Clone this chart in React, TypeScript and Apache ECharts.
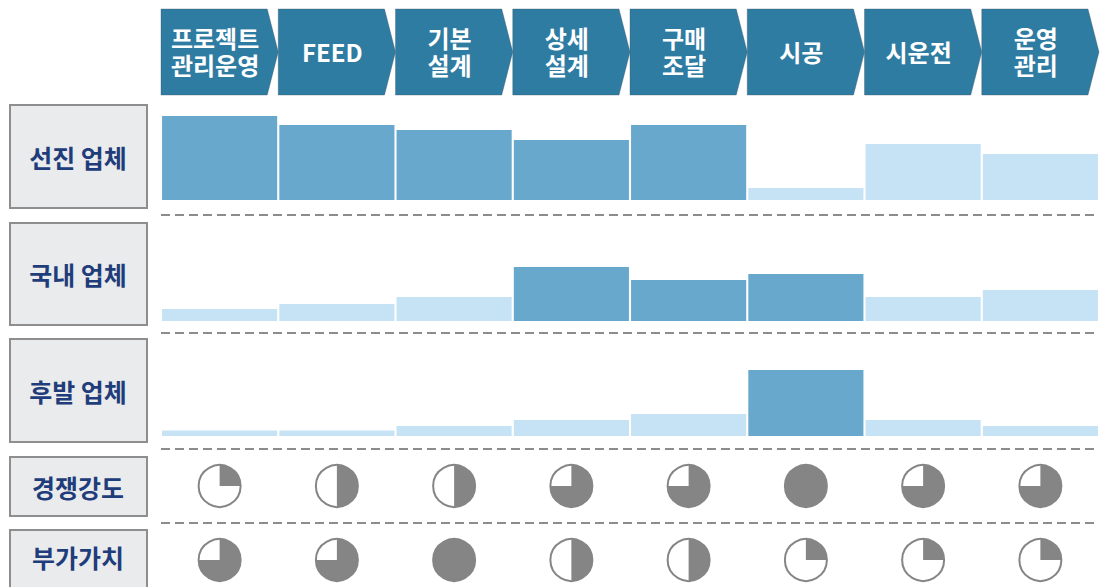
import React, { useEffect, useRef } from "react";
import * as echarts from "echarts";

// ---- data ----
const stages: string[] = ["프로젝트\n관리운영", "FEED", "기본\n설계", "상세\n설계", "구매\n조달", "시공", "시운전", "운영\n관리"];
const rowLabels: string[] = ["선진 업체", "국내 업체", "후발 업체", "경쟁강도", "부가가치"];

const advancedValues: number[] = [84, 75, 70, 60, 75, 12, 56, 46];
const advancedStrong: boolean[] = [true, true, true, true, true, false, false, false];
const domesticValues: number[] = [12, 17, 24, 54, 41, 47, 24, 31];
const domesticStrong: boolean[] = [false, false, false, true, true, true, false, false];
const followerValues: number[] = [5.5, 5.5, 10, 16, 22, 66, 16, 10];
const followerStrong: boolean[] = [false, false, false, false, false, true, false, false];

const competition: number[] = [0.25, 0.5, 0.5, 0.75, 0.75, 1, 0.75, 0.75];
const addedValue: number[] = [0.75, 0.75, 1, 0.5, 0.5, 0.25, 0.25, 0.25];

// ---- style ----
const DARK = "#68A8CD";
const LIGHT = "#C6E2F5";
const CHEV = "#2F7CA3";
const GREY = "#858585";
const NAVY = "#1F3D7A";
const FONT = '"Noto Sans CJK KR", "Noto Sans", sans-serif';

const LEFT = 161;
const WIDTH = 938;

export default function App() {
  const ref = useRef<HTMLDivElement>(null);

  useEffect(() => {
    if (!ref.current) return;
    const chart = echarts.init(ref.current, null, { renderer: "svg" });

    const barRows = [
      { values: advancedValues, strong: advancedStrong, top: 110 },
      { values: domesticValues, strong: domesticStrong, top: 231 },
      { values: followerValues, strong: followerStrong, top: 346 },
    ];
    const pieRows = [
      { values: competition, name: rowLabels[3], top: 466 },
      { values: addedValue, name: rowLabels[4], top: 540 },
    ];

    const grids: any[] = [];
    const xAxes: any[] = [];
    const yAxes: any[] = [];
    const series: any[] = [];

    // header grid (index 0)
    grids.push({ left: LEFT, width: WIDTH, top: 9, height: 86 });
    xAxes.push({ type: "category", data: stages, gridIndex: 0, show: false });
    yAxes.push({ type: "category", data: ["h"], gridIndex: 0, show: false });
    series.push({
      type: "custom",
      xAxisIndex: 0,
      yAxisIndex: 0,
      data: stages.map((s) => [s, "h"]),
      renderItem: (params: any, api: any) => {
        const c = api.coord([api.value(0), api.value(1)]);
        const w = api.size([1, 0])[0];
        const cs = params.coordSys;
        const x0 = c[0] - w / 2;
        const top = cs.y;
        const bottom = cs.y + cs.height;
        const mid = (top + bottom) / 2;
        const tip = 11;
        const lines = stages[params.dataIndex].split("\n");
        const children: any[] = [
          {
            type: "polygon",
            shape: {
              points: [
                [x0, top],
                [x0 + w - tip, top],
                [x0 + w, mid],
                [x0 + w - tip, bottom],
                [x0, bottom],
              ],
            },
            style: { fill: CHEV, stroke: "rgba(60,80,95,0.35)", lineWidth: 1 },
          },
        ];
        const lh = 27;
        lines.forEach((ln, k) => {
          children.push({
            type: "text",
            style: {
              text: ln,
              x: x0 + (w - tip) / 2 + 1,
              y: mid + (k - (lines.length - 1) / 2) * lh - 1,
              textAlign: "center",
              textVerticalAlign: "middle",
              fill: "#ffffff",
              font: `bold 24px ${FONT}`,
            },
          });
        });
        return { type: "group", children };
      },
    });

    // bar rows
    barRows.forEach((r) => {
      const gi = grids.length;
      grids.push({ left: LEFT, width: WIDTH, top: r.top, height: 90 });
      xAxes.push({ type: "category", data: stages, gridIndex: gi, show: false });
      yAxes.push({ type: "value", min: 0, max: 90, gridIndex: gi, show: false, splitLine: { show: false } });
      series.push({
        type: "bar",
        xAxisIndex: gi,
        yAxisIndex: gi,
        barCategoryGap: "1.8%",
        data: r.values.map((v, i) => ({ value: v, itemStyle: { color: r.strong[i] ? DARK : LIGHT } })),
      });
    });

    // pie rows
    pieRows.forEach((r) => {
      const gi = grids.length;
      grids.push({ left: LEFT, width: WIDTH, top: r.top, height: 40 });
      xAxes.push({ type: "category", data: stages, gridIndex: gi, show: false });
      yAxes.push({ type: "category", data: [r.name], gridIndex: gi, show: false });
      series.push({
        type: "custom",
        xAxisIndex: gi,
        yAxisIndex: gi,
        data: r.values.map((v, i) => [stages[i], r.name, v]),
        encode: { x: 0, y: 1 },
        renderItem: (params: any, api: any) => {
          const c = api.coord([api.value(0), api.value(1)]);
          const f = api.value(2) as number;
          const R = 21;
          const children: any[] = [
            { type: "circle", shape: { cx: c[0], cy: c[1], r: R }, style: { fill: "#ffffff" } },
          ];
          if (f > 0) {
            children.push({
              type: "sector",
              shape: {
                cx: c[0],
                cy: c[1],
                r0: 0,
                r: R,
                startAngle: -Math.PI / 2,
                endAngle: -Math.PI / 2 + Math.PI * 2 * f,
                clockwise: true,
              },
              style: { fill: GREY },
            });
          }
          children.push({
            type: "circle",
            shape: { cx: c[0], cy: c[1], r: R },
            style: { fill: "none", stroke: GREY, lineWidth: 2 },
          });
          return { type: "group", children };
        },
      });
    });

    // left label boxes & dashed separators
    const boxes = [
      { y: 105, h: 103 },
      { y: 223, h: 102 },
      { y: 339, h: 103 },
      { y: 457, h: 59 },
      { y: 530, h: 62 },
    ];
    const graphic: any[] = [];
    boxes.forEach((b, i) => {
      graphic.push({
        type: "rect",
        shape: { x: 10, y: b.y, width: 137, height: b.h },
        style: { fill: "#E9EBED", stroke: "#8E8E8E", lineWidth: 2 },
      });
      graphic.push({
        type: "text",
        x: 78,
        y: i === 4 ? 557 : b.y + b.h / 2,
        style: {
          text: rowLabels[i],
          textAlign: "center",
          textVerticalAlign: "middle",
          fill: NAVY,
          font: `bold 25px ${FONT}`,
        },
      });
    });
    [215, 333, 449, 523].forEach((y) => {
      graphic.push({
        type: "line",
        shape: { x1: LEFT, y1: y, x2: LEFT + WIDTH - 1, y2: y },
        style: { stroke: "#8C8C8C", lineWidth: 2, lineDash: [9, 5] },
      });
    });

    chart.setOption({
      animation: false,
      backgroundColor: "#ffffff",
      grid: grids,
      xAxis: xAxes,
      yAxis: yAxes,
      series,
      graphic,
    });

    return () => chart.dispose();
  }, []);

  return (
    <div
      ref={ref}
      style={{ position: "fixed", left: 0, top: 0, width: 1100, height: 587 }}
    />
  );
}
